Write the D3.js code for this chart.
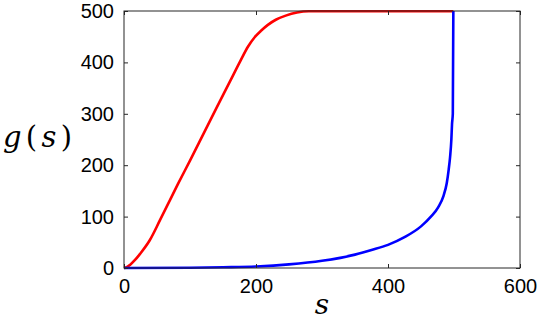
<!DOCTYPE html>
<html>
<head>
<meta charset="utf-8">
<script src="https://cdn.jsdelivr.net/npm/d3@7"></script>
<style>
  html, body { margin: 0; padding: 0; background: #fff; }
  svg { display: block; }
</style>
</head>
<body>
<svg id="chart" width="542" height="320"></svg>
<script>
// Data
const redS  = [0, 4, 9, 16.7, 24, 39, 54.5, 70, 82, 100, 120, 140, 160.6, 176, 188, 198, 208, 218, 230, 245, 262, 280, 320, 400, 499];
const redG  = [0, 1.5, 6, 15.6, 27, 54, 93, 133, 164, 209, 260, 311, 363, 402, 431, 449, 462, 473, 483, 491, 497, 499.5, 499.5, 499.5, 499.5];
const blueS = [0, 100, 150, 200, 250, 300, 350, 375, 400, 425, 450, 465, 476, 484, 489, 492, 494, 496, 497, 498.2, 499];
const blueG = [0, 0.5, 1.5, 3, 7, 14, 26, 35, 45, 60, 81, 100, 118, 140, 165, 192, 215, 250, 280, 300, 500];
const xTicks = [0, 200, 400, 600];
const yTicks = [0, 100, 200, 300, 400, 500];

const svg = d3.select("#chart");
const L = 124, R = 520, T = 11, B = 268;
const x = d3.scaleLinear().domain([0, 600]).range([L, R]);
const y = d3.scaleLinear().domain([0, 500]).range([B, T]);
const axisColor = "#262626";

const line = d3.line().x(d => x(d[0])).y(d => y(d[1])).curve(d3.curveMonotoneX);

svg.append("path")
  .datum(redS.map((s, i) => [s, redG[i]]))
  .attr("d", line).attr("fill", "none").attr("stroke", "#ff0000").attr("stroke-width", 2.6);
svg.append("path")
  .datum(blueS.map((s, i) => [s, blueG[i]]))
  .attr("d", line).attr("fill", "none").attr("stroke", "#0000ff").attr("stroke-width", 2.6);

function styleAxis(g) {
  g.selectAll("path.domain").remove();
  g.selectAll("line").attr("stroke", axisColor);
  g.selectAll("text").attr("fill", "#000")
    .style("font-family", "'Liberation Sans', Arial, sans-serif").style("font-size", "20px");
}

svg.append("g").attr("transform", `translate(0,${B})`)
  .call(d3.axisBottom(x).tickValues(xTicks).tickSizeInner(-4).tickSizeOuter(0).tickPadding(11).tickFormat(d3.format("d")))
  .call(styleAxis);
svg.append("g").attr("transform", `translate(${L},0)`)
  .call(d3.axisLeft(y).tickValues(yTicks).tickSizeInner(-4).tickSizeOuter(0).tickPadding(10).tickFormat(d3.format("d")))
  .call(styleAxis);
svg.append("g").attr("transform", `translate(0,${T})`)
  .call(d3.axisTop(x).tickValues(xTicks).tickSizeInner(-4).tickSizeOuter(0).tickFormat(""))
  .call(styleAxis);
svg.append("g").attr("transform", `translate(${R},0)`)
  .call(d3.axisRight(y).tickValues(yTicks).tickSizeInner(-4).tickSizeOuter(0).tickFormat(""))
  .call(styleAxis);

svg.append("rect").attr("x", L).attr("y", T).attr("width", R - L).attr("height", B - T)
  .attr("fill", "none").attr("stroke", axisColor).attr("stroke-width", 1);

// Axis labels
const yl = svg.append("text").attr("x", 3).attr("y", 147)
  .attr("textLength", 69).attr("lengthAdjust", "spacing")
  .style("font-family", "'DejaVu Serif', 'Liberation Serif', serif").style("font-size", "29px").attr("fill", "#000");
yl.append("tspan").style("font-style", "italic").text("g");
yl.append("tspan").text("(");
yl.append("tspan").style("font-style", "italic").text("s");
yl.append("tspan").text(")");

svg.append("text").attr("x", (L + R) / 2).attr("y", 314).attr("text-anchor", "middle")
  .style("font-family", "'DejaVu Serif', 'Liberation Serif', serif").style("font-size", "28px")
  .style("font-style", "italic").attr("fill", "#000").text("s");
</script>
</body>
</html>
